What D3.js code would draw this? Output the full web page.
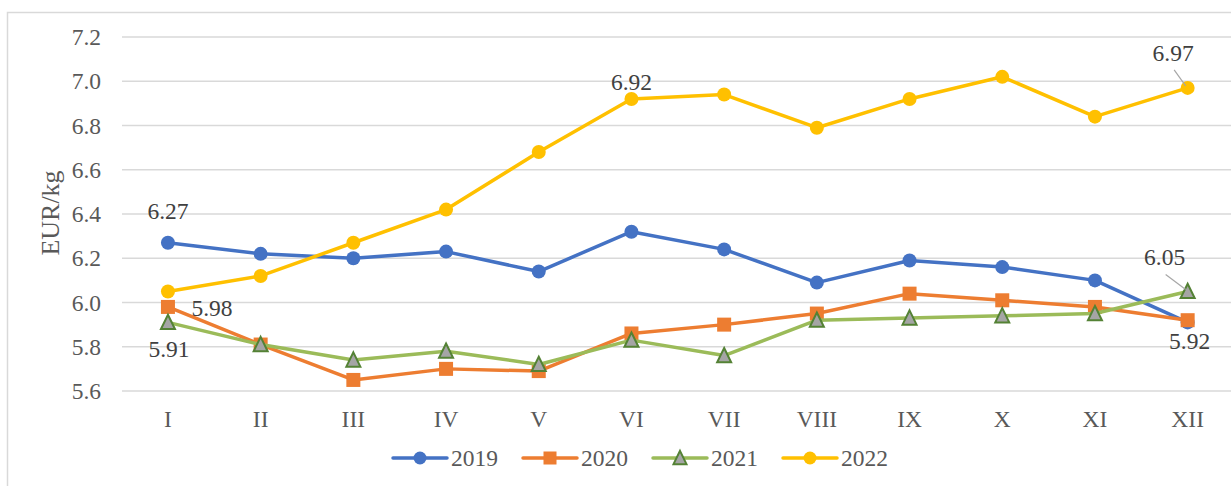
<!DOCTYPE html>
<html>
<head>
<meta charset="utf-8">
<script src="https://cdn.jsdelivr.net/npm/d3@7"></script>
<style>
  body { margin: 0; background: #fff; }
  svg { display: block; }
  svg text { font-family: "Liberation Serif", "DejaVu Serif", serif; }
</style>
</head>
<body>
<svg id="chart" width="1231" height="486"></svg>
<script>
// data
let months = ["I", "II", "III", "IV", "V", "VI", "VII", "VIII", "IX", "X", "XI", "XII"];
let years = ["2019", "2020", "2021", "2022"];
let y2019 = [6.27, 6.22, 6.20, 6.23, 6.14, 6.32, 6.24, 6.09, 6.19, 6.16, 6.10, 5.91];
let y2020 = [5.98, 5.81, 5.65, 5.70, 5.69, 5.86, 5.90, 5.95, 6.04, 6.01, 5.98, 5.92];
let y2021 = [5.91, 5.81, 5.74, 5.78, 5.72, 5.83, 5.76, 5.92, 5.93, 5.94, 5.95, 6.05];
let y2022 = [6.05, 6.12, 6.27, 6.42, 6.68, 6.92, 6.94, 6.79, 6.92, 7.02, 6.84, 6.97];
let yTicks = [5.6, 5.8, 6.0, 6.2, 6.4, 6.6, 6.8, 7.0, 7.2];
// labelled points: [series index, month index]
let labelled = [[0, 0], [1, 0], [2, 0], [3, 5], [3, 11], [2, 11], [1, 11]];

let values = [y2019, y2020, y2021, y2022];
let colors = ["#4472c4", "#ed7d31", "#9bbb59", "#ffc000"];
let shapes = ["circle", "square", "triangle", "circle"];

// label placement (dx, dy of baseline centre from point, leader line or not)
let labelPlace = {
    "0-0": {dx: 0, dy: -24, lead: false},
    "1-0": {dx: 44, dy: 9, lead: false},
    "2-0": {dx: 1, dy: 35, lead: false},
    "3-5": {dx: 0, dy: -9, lead: false},
    "3-11": {dx: -14.5, dy: -27, lead: true},
    "2-11": {dx: -23, dy: -26, lead: true},
    "1-11": {dx: 2, dy: 29, lead: false}
};

let svg = d3.select("#chart");

// frame
svg.append("rect")
    .attr("x", 7.5).attr("y", 12.5)
    .attr("width", 1240).attr("height", 490)
    .attr("fill", "none")
    .attr("stroke", "#d9d9d9")
    .attr("stroke-width", 1.5);

let x = d3.scaleBand()
    .domain(months)
    .range([121.6, 1234]);

let y = d3.scaleLinear()
    .domain([5.6, 7.2])
    .range([391, 37]);

// gridlines
svg.append("g")
    .selectAll("line")
    .data(yTicks)
    .enter()
    .append("line")
    .attr("x1", 122).attr("x2", 1231)
    .attr("y1", d => y(d)).attr("y2", d => y(d))
    .attr("stroke", "#d9d9d9")
    .attr("stroke-width", 1.5);

// y axis
let yAxis = svg.append("g")
    .attr("transform", "translate(111,0)")
    .call(d3.axisLeft(y).tickValues(yTicks).tickFormat(d3.format(".1f")).tickSize(0).tickPadding(10));
yAxis.select(".domain").remove();
yAxis.selectAll("text")
    .attr("fill", "#595959")
    .style("font-size", "23.5px");

// x axis
let xAxis = svg.append("g")
    .attr("transform", "translate(0,391)")
    .call(d3.axisBottom(x).tickSize(0).tickPadding(19));
xAxis.select(".domain").remove();
xAxis.selectAll("text")
    .attr("fill", "#595959")
    .style("font-size", "23.5px");

// y title
svg.append("text")
    .attr("transform", "translate(59,213) rotate(-90)")
    .attr("text-anchor", "middle")
    .attr("fill", "#595959")
    .style("font-size", "26px")
    .text("EUR/kg");

let cx = (d, i) => x(months[i]) + x.bandwidth() / 2;

let line = d3.line()
    .x((d, i) => cx(d, i))
    .y(d => y(d));

function drawMarker(g, shape, color, px, py, size) {
    if (shape === "circle") {
        g.append("circle")
            .attr("cx", px).attr("cy", py).attr("r", size / 2)
            .attr("fill", color);
    } else if (shape === "square") {
        g.append("rect")
            .attr("x", px - size / 2).attr("y", py - size / 2)
            .attr("width", size).attr("height", size)
            .attr("fill", color);
    } else {
        let h = size * 0.95;
        g.append("path")
            .attr("d", "M" + px + "," + (py - h / 2 - 1) + " L" + (px + size / 2) + "," + (py + h / 2) +
                " L" + (px - size / 2) + "," + (py + h / 2) + " Z")
            .attr("fill", "#a5a5a5")
            .attr("stroke", "#548235")
            .attr("stroke-width", 2);
    }
}

values.forEach(function(series, s) {
    let g = svg.append("g");
    g.append("path")
        .datum(series)
        .attr("d", line)
        .attr("fill", "none")
        .attr("stroke", colors[s])
        .attr("stroke-width", 3.5)
        .attr("stroke-linejoin", "round");
    series.forEach(function(v, i) {
        drawMarker(g, shapes[s], colors[s], cx(v, i), y(v), 14);
    });
});

// data labels
let lab = svg.append("g");
labelled.forEach(function(p) {
    let s = p[0], i = p[1];
    let v = values[s][i];
    let px = cx(v, i), py = y(v);
    let pl = labelPlace[s + "-" + i];
    if (pl.lead) {
        lab.append("line")
            .attr("x1", px + pl.dx + 1).attr("y1", py + pl.dy + 9)
            .attr("x2", px - 2).attr("y2", py - 2)
            .attr("stroke", "#a6a6a6")
            .attr("stroke-width", 1.2);
    }
    lab.append("text")
        .attr("x", px + pl.dx)
        .attr("y", py + pl.dy)
        .attr("text-anchor", "middle")
        .attr("fill", "#404040")
        .style("font-size", "23.5px")
        .text(v.toFixed(2));
});

// legend
let legendX = [393, 523, 653, 783];
let legend = svg.append("g");
years.forEach(function(yr, k) {
    let lx = legendX[k], ly = 458;
    legend.append("line")
        .attr("x1", lx).attr("x2", lx + 54)
        .attr("y1", ly).attr("y2", ly)
        .attr("stroke", colors[k])
        .attr("stroke-width", 3.5)
        .attr("stroke-linecap", "round");
    drawMarker(legend, shapes[k], colors[k], lx + 27, ly, 13);
    legend.append("text")
        .attr("x", lx + 58)
        .attr("y", ly + 8)
        .attr("fill", "#595959")
        .style("font-size", "23.5px")
        .text(yr);
});
</script>
</body>
</html>
